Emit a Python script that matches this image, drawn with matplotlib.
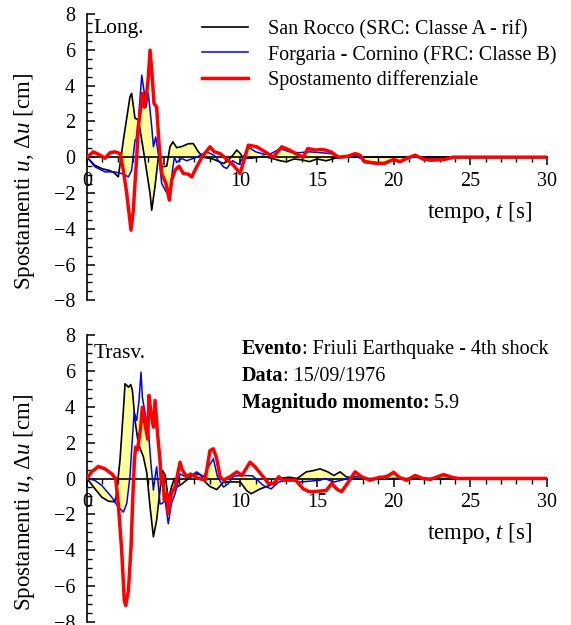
import matplotlib
matplotlib.use("Agg")
import matplotlib.pyplot as plt
import numpy as np
from matplotlib.ticker import MultipleLocator

plt.rcParams['font.family'] = ['Liberation Serif', 'DejaVu Serif']
plt.rcParams['mathtext.fontset'] = 'custom'
plt.rcParams['mathtext.rm'] = 'Liberation Serif'
plt.rcParams['mathtext.it'] = 'Liberation Serif:italic'
plt.rcParams['mathtext.bf'] = 'Liberation Serif:bold'

FS = 14.5      # ticks, legend, notes
FS_LAB = 16.5  # axis titles

# --- Longitudinal component ---
long_src_t = [0, 0.5, 1.0, 1.5, 1.8, 2.04, 2.37, 2.8, 2.91, 3.13, 3.35, 3.78, 4.11, 4.22, 4.43,
              4.65, 4.9, 5.2, 5.41, 5.6, 5.85, 6.2, 6.6, 6.93, 7.26, 7.59, 8.2, 8.9, 9.2, 9.5,
              9.77, 10.0, 10.2, 10.8, 11.5, 12.2, 12.6, 13.0, 13.5, 14.0, 14.5, 15.0, 15.6,
              16.2, 17.0, 30]
long_src_u = [0, -0.45, -0.65, -0.75, -0.9, -1.1, 0.95, 3.37, 3.56, 2.17, 2.1, -0.17, -2.03, -2.96,
              -1.66, 0, -0.54, -0.5, 0.58, 0.86, 0.53, 0.6, 0.75, 0.76, 0.3, 0, -0.1, -0.35, -0.2,
              0.1, 0.4, 0.2, -0.07, -0.05, 0.05, -0.1, -0.2, -0.26, -0.1, -0.15, -0.25, -0.1,
              -0.2, -0.05, 0, 0]

long_frc_t = [0, 0.52, 1.17, 1.8, 2.2, 2.48, 2.7, 2.91, 3.13, 3.2, 3.35, 3.57, 3.74, 3.85, 4.0,
              4.22, 4.33, 4.48, 4.7, 4.87, 5.2, 5.41, 5.57, 5.7, 5.85, 6.17, 6.5, 7.15, 7.8, 8.3,
              8.9, 9.11, 9.5, 9.9, 10.2, 10.5, 11.0, 11.6, 12.0, 12.6, 13.2, 13.8, 14.5, 15.4,
              15.9, 16.5, 17.0, 17.5, 18.1, 18.9, 19.4, 20.0, 20.4, 20.9, 21.4, 21.9, 22.4,
              23.3, 23.9, 30]
long_frc_u = [0, -0.54, -0.82, -0.82, -0.9, -1.0, -1.1, -0.73, 0.95, 1.0, 2.07, 4.58, 3.56, 2.8,
              3.56, 1.7, 0.58, 1.13, -0.1, -1.47, -2.0, -2.12, -0.73, 0, -0.3, -0.07, -0.2, 0,
              0.3, 0.1, -0.54, -0.63, -0.2, -0.4, 0, 0.58, 0.3, 0.15, 0.2, 0.48, 0.3, 0.25, 0.3,
              0.24, 0.2, 0, 0.05, 0.1, -0.2, -0.3, -0.3, -0.1, -0.2, -0.05, 0.05, -0.05, -0.1,
              -0.1, 0, 0]

long_diff_t = [0, 0.41, 0.85, 1.17, 1.5, 1.83, 2.15, 2.37, 2.59, 2.87, 3.02, 3.13, 3.24, 3.35,
               3.5, 3.61, 3.74, 3.89, 4.0, 4.11, 4.25, 4.37, 4.54, 4.7, 4.87, 5.15, 5.37, 5.52,
               5.74, 6.0, 6.28, 6.6, 6.83, 7.15, 7.5, 8.02, 8.3, 8.68, 9.1, 9.55, 9.98, 10.3,
               10.52, 11.07, 11.7, 12.15, 12.7, 13.2, 13.6, 14.1, 14.4, 14.9, 15.4, 15.9, 16.4,
               17.0, 17.5, 17.8, 18.1, 18.9, 19.4, 20.0, 20.4, 20.9, 21.4, 21.9, 22.4, 23.3,
               23.9, 30]
long_diff_u = [0, 0.3, 0.11, -0.06, 0.25, 0.3, 0.2, -0.73, -2.03, -4.08, -2.96, -1.46, 0, 1.7,
               2.75, 3.56, 2.79, 3.56, 4.49, 5.98, 4.5, 3.0, 2.8, 0.7, -0.91, -1.47, -2.4,
               -1.28, -0.73, -0.5, -0.91, -0.95, -1.1, -0.54, 0, 0.58, 0.3, 0.2, -0.1, -0.45,
               -0.91, 0, 0.67, 0.58, 0.25, 0, 0.58, 0.4, 0.2, 0, 0.48, 0.4, 0.43, 0.3, 0, 0.05,
               0.2, 0.11, -0.26, -0.35, -0.35, -0.13, -0.26, -0.05, 0.11, -0.1, -0.17, -0.13,
               0, 0]

# --- Transverse component ---
trasv_src_t = [0, 0.52, 0.96, 1.39, 1.8, 1.9, 2.15, 2.37, 2.48, 2.6, 2.7, 2.85, 2.96, 3.13,
               3.35, 3.68, 3.9, 4.11, 4.33, 4.54, 4.76, 4.91, 5.1, 5.3, 5.5, 5.7, 5.85, 6.2,
               6.72, 7.15, 7.4, 7.7, 8.02, 8.46, 8.9, 9.55, 10.0, 10.4, 10.7, 11.3, 11.9, 12.5,
               13.2, 13.7, 14.3, 14.7, 15.2, 15.7, 16.1, 16.5, 16.9, 17.5, 30]
trasv_src_u = [0, -0.58, -1.04, -1.27, -1.3, -1.0, 1.02, 3.8, 5.29, 5.2, 5.1, 5.25, 4.92, 3.24,
               1.94, 1.2, 0.3, -1.58, -3.26, -2.33, -0.65, 0.46, 0.2, -1.21, -0.5, 0, -0.48,
               -0.3, 0.07, 0.26, 0.2, -0.19, -0.45, -0.62, -0.2, -0.19, -0.2, -0.67, -0.85,
               -0.58, -0.39, 0, 0.07, 0.0, 0.37, 0.43, 0.54, 0.37, 0.17, 0.37, 0.1, 0, 0]

trasv_frc_t = [0, 0.5, 0.96, 1.61, 2.04, 2.37, 2.59, 2.8, 2.91, 3.07, 3.24, 3.39, 3.52, 3.61,
               3.8, 4.0, 4.17, 4.33, 4.44, 4.54, 4.76, 4.9, 5.09, 5.3, 5.5, 5.74, 6.07, 6.4, 6.8,
               7.15, 7.6, 7.91, 8.24, 8.5, 8.9, 9.2, 9.55, 10.2, 10.8, 11.5, 12.0, 12.5, 13.0,
               13.4, 13.9, 14.5, 15.2, 15.5, 16.1, 16.8, 17.4, 17.8, 18.46, 19.1, 20.0, 20.35,
               20.85, 21.4, 21.9, 22.4, 23.25, 23.8, 24.2, 30]
trasv_frc_u = [0, -0.1, -0.39, -1.04, -1.6, -1.88, -1.4, 0.1, 1.58, 3.7, 3.24, 4.36, 5.94, 4.54,
               3.6, 2.68, 0.82, -0.65, 0.1, 0.65, -1.42, -1.4, -1.21, -2.53, -1.4, -0.86, 0.26,
               0.1, 0.15, 0.37, 0.1, 0.65, 1.1, 0.13, -0.48, -0.3, 0.13, 0.17, 0.15, -0.39,
               -0.58, -0.2, -0.1, -0.09, -0.2, -0.15, -0.1, 0, -0.2, -0.05, 0.1, 0.1, -0.05,
               0.05, 0.3, 0.05, -0.1, 0.12, 0, -0.05, 0.18, 0.05, 0, 0]

trasv_diff_t = [0, 0.3, 0.74, 1.17, 1.61, 1.87, 2.04, 2.26, 2.43, 2.52, 2.7, 2.87, 2.98, 3.09,
                3.17, 3.3, 3.5, 3.61, 3.78, 3.96, 4.04, 4.15, 4.33, 4.44, 4.6, 4.76, 4.85, 4.95,
                5.04, 5.2, 5.3, 5.5, 5.74, 6.07, 6.2, 6.5, 6.75, 7.0, 7.3, 7.7, 8.02, 8.24, 8.46,
                8.68, 8.9, 9.33, 9.77, 10.1, 10.63, 10.96, 11.4, 11.83, 12.2, 12.5, 12.75, 13.0,
                13.6, 14.1, 14.5, 15.0, 15.6, 15.96, 16.3, 16.6, 17.05, 17.48, 17.9, 18.46,
                19.1, 19.5, 20.0, 20.35, 20.85, 21.4, 21.9, 22.4, 23.25, 23.8, 24.2, 30]
trasv_diff_u = [0, 0.37, 0.67, 0.54, 0.26, 0, -1.42, -4.0, -6.82, -7.1, -6.26, -3.84, -1.21, 1.0,
                1.75, 1.6, 2.87, 3.98, 3.06, 2.2, 4.64, 3.8, 2.87, 4.36, 2.5, 1.0, -0.3, 0.2,
                -1.21, -0.84, -1.97, -0.84, -0.48, 0.91, 0.5, 0.1, 0.25, 0.13, 0, -0.09, 1.56,
                1.66, 1.1, 0.1, -0.09, 0.1, 0.37, 0.17, 0.91, 0.65, 0.19, -0.28, -0.3, 0.1,
                -0.09, -0.09, -0.09, -0.58, -0.74, -0.72, -0.67, -0.28, -0.6, -0.74, -0.19,
                0.37, 0.1, -0.1, 0.07, 0.07, 0.35, 0.07, -0.1, 0.17, 0, -0.05, 0.22, 0.07, 0, 0]

labels = ['San Rocco (SRC: Classe A - rif)', 'Forgaria - Cornino (FRC: Classe B)',
          'Spostamento differenziale']
xtick_vals = [0, 5, 10, 15, 20, 25, 30]
xtick_text = ['0', '', '10', '15', '20', '25', '30']

# event notes: (bold part, plain part)
event_info = [('Evento', ': Friuli Earthquake - 4th shock'),
              ('Data', ': 15/09/1976'),
              ('Magnitudo momento:', ' 5.9')]


def draw_panel(ax, src_t, src_u, frc_t, frc_u, diff_t, diff_u):
    # yellow band between the two stations
    band_x = np.concatenate([src_t, frc_t[::-1]])
    band_y = np.concatenate([src_u, frc_u[::-1]])
    ax.fill(band_x, band_y, color='#ffff99', lw=0, zorder=1)
    ax.plot(src_t, src_u, color='black', lw=1.2, zorder=3, label=labels[0])
    ax.plot(frc_t, frc_u, color='#0000ff', lw=1.1, zorder=3, label=labels[1])
    ax.plot(diff_t, diff_u, color='#ff0000', lw=2.5, zorder=4, label=labels[2])

    ax.set_xlim(0, 30)
    ax.set_ylim(-8, 8)
    ax.spines['top'].set_visible(False)
    ax.spines['right'].set_visible(False)
    ax.spines['bottom'].set_position(('data', 0))
    ax.spines['bottom'].set_zorder(2.5)
    for s in ('left', 'bottom'):
        ax.spines[s].set_linewidth(1.2)
    ax.set_xticks(xtick_vals)
    ax.set_xticklabels(xtick_text)
    ax.xaxis.set_minor_locator(MultipleLocator(1))
    ax.set_yticks(np.arange(-8, 9, 2))
    ax.yaxis.set_minor_locator(MultipleLocator(0.5))
    ax.tick_params(axis='x', which='major', direction='out', length=6, width=1.1, pad=4.5,
                   labelsize=FS)
    ax.tick_params(axis='x', which='minor', direction='out', length=3.5, width=1.0)
    ax.tick_params(axis='y', which='major', direction='in', length=6, width=1.1, pad=8.5,
                   labelsize=FS)
    ax.tick_params(axis='y', which='minor', direction='in', length=3.5, width=1.0)
    ax.patch.set_alpha(0)

    ax.set_ylabel('Spostamenti $u$, Δ$u$ [cm]', fontsize=FS_LAB, va='center')
    ax.yaxis.set_label_coords(-0.135, 0.415)
    ax.text(29.0, -3.1, 'tempo, $t$ [s]', fontsize=FS_LAB, ha='right', va='center')


fig = plt.figure(figsize=(5.71, 6.25), dpi=100)
ax1 = fig.add_axes([0.1524, 0.5194, 0.8056, 0.4582])
ax2 = fig.add_axes([0.1524, 0.0053, 0.8056, 0.4582])

draw_panel(ax1, np.array(long_src_t), np.array(long_src_u), np.array(long_frc_t),
           np.array(long_frc_u), long_diff_t, long_diff_u)
draw_panel(ax2, np.array(trasv_src_t), np.array(trasv_src_u), np.array(trasv_frc_t),
           np.array(trasv_frc_u), trasv_diff_t, trasv_diff_u)

ax1.text(0.39, 6.93, 'Long.', fontsize=15.5, va='baseline')
ax2.text(0.41, 6.76, 'Trasv.', fontsize=15.5, va='baseline')

ax1.legend(loc='upper left', bbox_to_anchor=(0.249, 0.98), frameon=False, fontsize=FS,
           handlelength=2.3, handletextpad=1.0, labelspacing=0.28, borderpad=0,
           borderaxespad=0)

for (bold, plain), yy in zip(event_info, [6.97, 5.42, 3.92]):
    t1 = ax2.text(10.09, yy, bold, fontsize=FS, fontweight='bold', va='baseline')
    ax2.annotate(plain, xy=(1, 0), xycoords=t1, fontsize=FS, va='bottom', ha='left')

fig.savefig('out.png', dpi=100)
